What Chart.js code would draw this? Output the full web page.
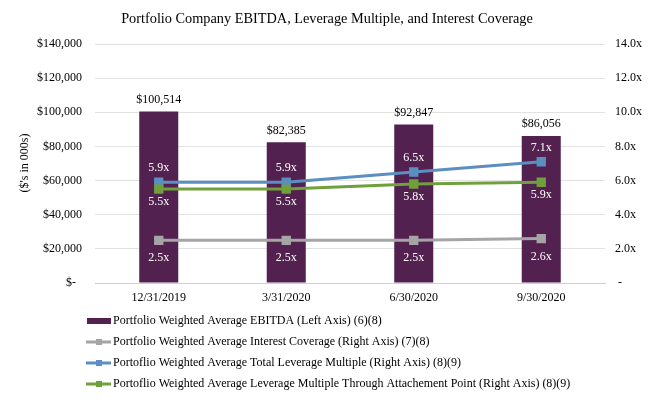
<!DOCTYPE html>
<html>
<head>
<meta charset="utf-8">
<script src="https://cdn.jsdelivr.net/npm/chart.js@4.4.1/dist/chart.umd.min.js"></script>
<style>
  html, body { margin: 0; padding: 0; background: #fff; }
  #wrap { width: 656px; height: 402px; position: relative; }
</style>
</head>
<body>
<div id="wrap"><canvas id="c" width="656" height="402"></canvas></div>
<script>
const categories = ['12/31/2019', '3/31/2020', '6/30/2020', '9/30/2020'];
const ebitda = [100514, 82385, 92847, 86056];
const interestCoverage = [2.5, 2.5, 2.5, 2.6];
const totalLeverage = [5.9, 5.9, 6.5, 7.1];
const attachLeverage = [5.5, 5.5, 5.8, 5.9];
const leftTicks = [0, 20000, 40000, 60000, 80000, 100000, 120000, 140000];
const rightTicks = [0, 2, 4, 6, 8, 10, 12, 14];
const chartTitle = 'Portfolio Company EBITDA, Leverage Multiple, and Interest Coverage';
const leftAxisTitle = "($'s in 000s)";
const legendLabels = [
  'Portfolio Weighted Average EBITDA (Left Axis) (6)(8)',
  'Portfolio Weighted Average Interest Coverage (Right Axis) (7)(8)',
  'Portoflio Weighted Average Total Leverage Multiple (Right Axis) (8)(9)',
  'Portoflio Weighted Average Leverage Multiple Through Attachement Point (Right Axis) (8)(9)'
];

const FONT = "'Liberation Serif', 'Times New Roman', serif";
const C_BAR = '#522150';
const C_GRAY = '#A5A5A5';
const C_BLUE = '#5B8EC1';
const C_GREEN = '#6FA03C';

const fmtMoney = v => v === 0 ? '$-' : '$' + v.toLocaleString('en-US');
const fmtX = v => v.toFixed(1) + 'x';

const overlay = {
  id: 'overlay',
  afterDatasetsDraw(chart) {
    const ctx = chart.ctx;
    ctx.save();
    ctx.font = '12px ' + FONT;
    ctx.textAlign = 'center';
    ctx.textBaseline = 'middle';
    const barMeta = chart.getDatasetMeta(0);
    barMeta.data.forEach((el, i) => {
      ctx.fillStyle = '#000';
      ctx.fillText(fmtMoney(ebitda[i]), el.x, el.y - 12);
    });
    const offs = { 1: 18, 2: -14, 3: 13 };
    [1, 2, 3].forEach(di => {
      const meta = chart.getDatasetMeta(di);
      const vals = chart.data.datasets[di].data;
      meta.data.forEach((el, i) => {
        ctx.fillStyle = '#fff';
        ctx.fillText(fmtX(vals[i]), el.x, el.y + offs[di]);
      });
    });
    ctx.restore();
  },
  afterDraw(chart) {
    const ctx = chart.ctx;
    ctx.save();
    // title
    ctx.fillStyle = '#000';
    ctx.font = '14.3px ' + FONT;
    ctx.textAlign = 'center';
    ctx.textBaseline = 'middle';
    ctx.fillText(chartTitle, 327, 19.5);
    // left axis title
    ctx.save();
    ctx.translate(25, 163);
    ctx.rotate(-Math.PI / 2);
    ctx.font = '12px ' + FONT;
    ctx.fillText(leftAxisTitle, 0, 0);
    ctx.restore();
    // legend
    const rows = [321, 342, 363, 384];
    const colors = [C_BAR, C_GRAY, C_BLUE, C_GREEN];
    ctx.font = '12px ' + FONT;
    ctx.textAlign = 'left';
    rows.forEach((y, i) => {
      if (i === 0) {
        ctx.fillStyle = C_BAR;
        ctx.fillRect(87, y - 3, 24, 6);
      } else {
        ctx.strokeStyle = colors[i];
        ctx.lineWidth = 3;
        ctx.beginPath();
        ctx.moveTo(86, y);
        ctx.lineTo(111, y);
        ctx.stroke();
        ctx.fillStyle = colors[i];
        ctx.fillRect(96, y - 3, 6, 6);
      }
      ctx.fillStyle = '#000';
      ctx.fillText(legendLabels[i], 113, y);
    });
    ctx.restore();
  }
};

new Chart(document.getElementById('c'), {
  data: {
    labels: categories,
    datasets: [
      {
        type: 'bar', label: legendLabels[0], data: ebitda, yAxisID: 'y',
        backgroundColor: C_BAR, categoryPercentage: 1, barPercentage: 0.306, order: 10
      },
      {
        type: 'line', label: legendLabels[1], data: interestCoverage, yAxisID: 'y1',
        borderColor: C_GRAY, backgroundColor: C_GRAY, borderWidth: 3,
        pointStyle: 'rect', pointRadius: 4.5, tension: 0, order: 3
      },
      {
        type: 'line', label: legendLabels[2], data: totalLeverage, yAxisID: 'y1',
        borderColor: C_BLUE, backgroundColor: C_BLUE, borderWidth: 3,
        pointStyle: 'rect', pointRadius: 4.5, tension: 0, order: 2
      },
      {
        type: 'line', label: legendLabels[3], data: attachLeverage, yAxisID: 'y1',
        borderColor: C_GREEN, backgroundColor: C_GREEN, borderWidth: 3,
        pointStyle: 'rect', pointRadius: 4.5, tension: 0, order: 1
      }
    ]
  },
  options: {
    responsive: false,
    animation: false,
    layout: { padding: { top: 44, left: 0, right: 0, bottom: 99 } },
    plugins: { legend: { display: false }, title: { display: false }, tooltip: { enabled: false } },
    scales: {
      x: {
        ticks: { color: '#000', font: { family: FONT, size: 12 }, padding: 8, maxRotation: 0 },
        grid: { display: false, drawTicks: false },
        border: { display: true, color: '#D0D0D0' },
        afterFit(s) { s.height = 20; }
      },
      y: {
        position: 'left', min: 0, max: 140000,
        afterBuildTicks(s) { s.ticks = leftTicks.map(v => ({ value: v })); },
        ticks: { color: '#000', font: { family: FONT, size: 12 }, padding: 13, callback: v => v === 0 ? '$-  ' : fmtMoney(v) },
        grid: { color: '#E2E2E2', drawTicks: false },
        border: { display: false },
        afterFit(s) { s.width = 95; }
      },
      y1: {
        position: 'right', min: 0, max: 14,
        afterBuildTicks(s) { s.ticks = rightTicks.map(v => ({ value: v })); },
        ticks: { color: '#000', font: { family: FONT, size: 12 }, padding: 10, callback: v => v === 0 ? ' -' : fmtX(v) },
        grid: { display: false, drawTicks: false },
        border: { display: false },
        afterFit(s) { s.width = 51; }
      }
    }
  },
  plugins: [overlay]
});
</script>
</body>
</html>
